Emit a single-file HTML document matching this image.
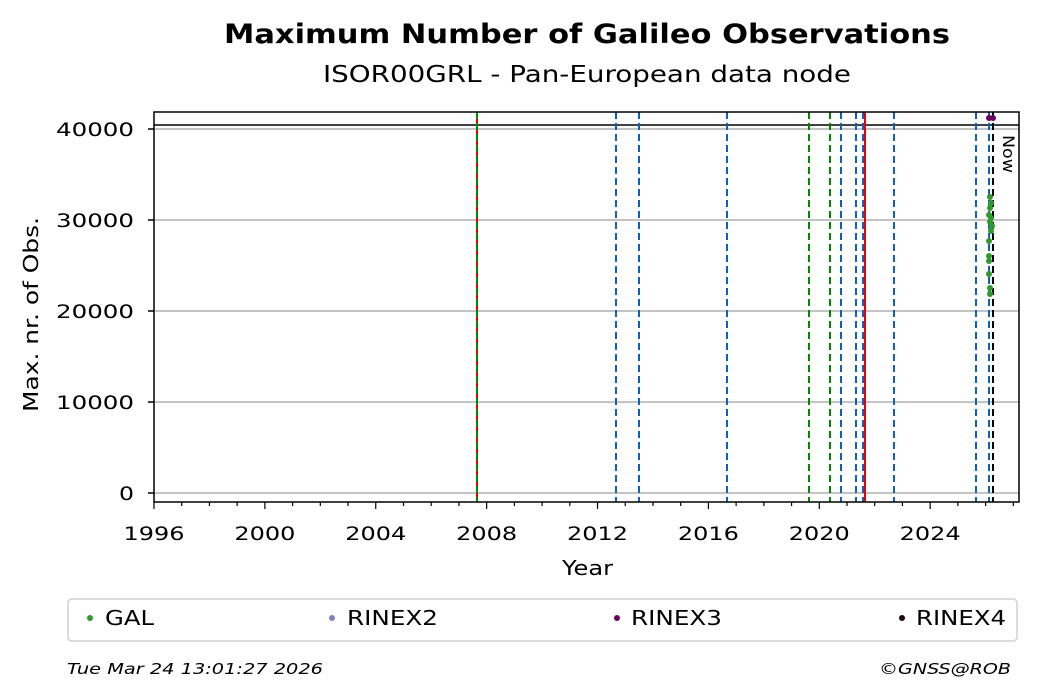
<!DOCTYPE html>
<html><head><style>body{margin:0;background:#fff}svg{display:block;font-family:"DejaVu Sans","Liberation Sans",sans-serif}</style></head>
<body>
<svg width="1040" height="699" viewBox="0 0 1040 699">
<text x="224" y="43" font-size="27" font-weight="bold" textLength="726" lengthAdjust="spacingAndGlyphs">Maximum Number of Galileo Observations</text>
<text x="323" y="82" font-size="23" textLength="528" lengthAdjust="spacingAndGlyphs">ISOR00GRL - Pan-European data node</text>
<g stroke="#b0b0b0" stroke-width="1.5">
<line x1="154" x2="1019" y1="129" y2="129"/><line x1="154" x2="1019" y1="220" y2="220"/><line x1="154" x2="1019" y1="311" y2="311"/><line x1="154" x2="1019" y1="402" y2="402"/><line x1="154" x2="1019" y1="493" y2="493"/>
</g>
<line x1="154" x2="1019" y1="125" y2="125" stroke="#000" stroke-width="1.5"/>
<g stroke-width="2" stroke-dasharray="7,4">
<line x1="477" x2="477" y1="112" y2="502" stroke="#e00" stroke-dasharray="none"/>
<line x1="477" x2="477" y1="112" y2="502" stroke="#080"/>
<line x1="616" x2="616" y1="112" y2="502" stroke="#1060c0"/>
<line x1="639" x2="639" y1="112" y2="502" stroke="#1060c0"/>
<line x1="727" x2="727" y1="112" y2="502" stroke="#1060c0"/>
<line x1="809" x2="809" y1="112" y2="502" stroke="#080"/>
<line x1="830" x2="830" y1="112" y2="502" stroke="#080"/>
<line x1="841" x2="841" y1="112" y2="502" stroke="#1060c0"/>
<line x1="856" x2="856" y1="112" y2="502" stroke="#1060c0"/>
<line x1="863" x2="863" y1="112" y2="502" stroke="#1060c0"/>
<line x1="865" x2="865" y1="112" y2="502" stroke="#e00" stroke-dasharray="none"/>
<line x1="894" x2="894" y1="112" y2="502" stroke="#1060c0"/>
<line x1="976" x2="976" y1="112" y2="502" stroke="#1060c0"/>
<line x1="989" x2="989" y1="112" y2="502" stroke="#1060c0"/>
<line x1="993" x2="993" y1="112" y2="502" stroke="#000"/>
</g>
<g fill="#2e9a2e">
<circle cx="990" cy="197" r="3"/><circle cx="991" cy="203" r="3"/><circle cx="990" cy="208" r="3"/><circle cx="989" cy="215" r="3"/><circle cx="991" cy="218" r="3"/><circle cx="990" cy="222" r="3"/><circle cx="992" cy="226" r="3"/><circle cx="991" cy="231" r="3"/><circle cx="989" cy="241" r="3"/><circle cx="989" cy="256" r="3"/><circle cx="989" cy="261" r="3"/><circle cx="989" cy="274" r="3"/><circle cx="990" cy="288" r="3"/><circle cx="990" cy="294" r="3"/>
</g>
<g fill="#6a0060"><circle cx="989" cy="118" r="3"/><circle cx="993" cy="118" r="3"/></g>
<text transform="translate(1003,135) rotate(90)" font-size="16" textLength="38" lengthAdjust="spacingAndGlyphs">Now</text>
<rect x="154" y="112" width="865" height="390" fill="none" stroke="#000" stroke-width="1.5"/>
<g stroke="#000" stroke-width="1.5">
<line x1="148" x2="154" y1="129" y2="129"/><line x1="148" x2="154" y1="220" y2="220"/><line x1="148" x2="154" y1="311" y2="311"/><line x1="148" x2="154" y1="402" y2="402"/><line x1="148" x2="154" y1="493" y2="493"/>
</g>
<g font-size="19">
<text x="56" y="136" textLength="78" lengthAdjust="spacingAndGlyphs">40000</text><text x="56" y="227" textLength="78" lengthAdjust="spacingAndGlyphs">30000</text><text x="56" y="318" textLength="78" lengthAdjust="spacingAndGlyphs">20000</text><text x="56" y="409" textLength="78" lengthAdjust="spacingAndGlyphs">10000</text><text x="119" y="500" textLength="15" lengthAdjust="spacingAndGlyphs">0</text>
</g>
<g stroke="#000" stroke-width="1.2" id="ticks"></g>
<g font-size="19" id="xl"></g>
<text x="562" y="575" font-size="20" textLength="51" lengthAdjust="spacingAndGlyphs">Year</text>
<text transform="translate(38,412) rotate(-90)" font-size="20" textLength="195" lengthAdjust="spacingAndGlyphs">Max. nr. of Obs.</text>
<rect x="68" y="599" width="949" height="42" rx="4" fill="#fff" stroke="#d0d0d0" stroke-width="1.5"/>
<circle cx="90" cy="618" r="3" fill="#2e9a2e"/><text x="105" y="625" font-size="20" textLength="49" lengthAdjust="spacingAndGlyphs">GAL</text>
<circle cx="332" cy="618" r="3" fill="#8080c0"/><text x="347" y="625" font-size="20" textLength="91" lengthAdjust="spacingAndGlyphs">RINEX2</text>
<circle cx="617" cy="618" r="3" fill="#6a0060"/><text x="631" y="625" font-size="20" textLength="91" lengthAdjust="spacingAndGlyphs">RINEX3</text>
<circle cx="902" cy="618" r="3" fill="#200018"/><text x="916" y="625" font-size="20" textLength="90" lengthAdjust="spacingAndGlyphs">RINEX4</text>
<text x="67" y="674" font-size="15" font-style="italic" textLength="256" lengthAdjust="spacingAndGlyphs">Tue Mar 24 13:01:27 2026</text>
<text x="879" y="674" font-size="15" font-style="italic" textLength="132" lengthAdjust="spacingAndGlyphs">©GNSS@ROB</text>
<script>
var t=document.getElementById('ticks'),l=document.getElementById('xl'),ns='http://www.w3.org/2000/svg';
for(var y=0;y<=31;y++){var x=154+y*27.72;if(x>1019.5)break;var e=document.createElementNS(ns,'line');
e.setAttribute('x1',x);e.setAttribute('x2',x);e.setAttribute('y1',502);e.setAttribute('y2',y%4==0?509:506);t.appendChild(e);
if(y%4==0){var s=document.createElementNS(ns,'text');s.setAttribute('x',x-30.5);s.setAttribute('y',540);s.setAttribute('textLength',61);s.setAttribute('lengthAdjust','spacingAndGlyphs');s.textContent=1996+y;l.appendChild(s);}}
</script>
</svg>
</body></html>
